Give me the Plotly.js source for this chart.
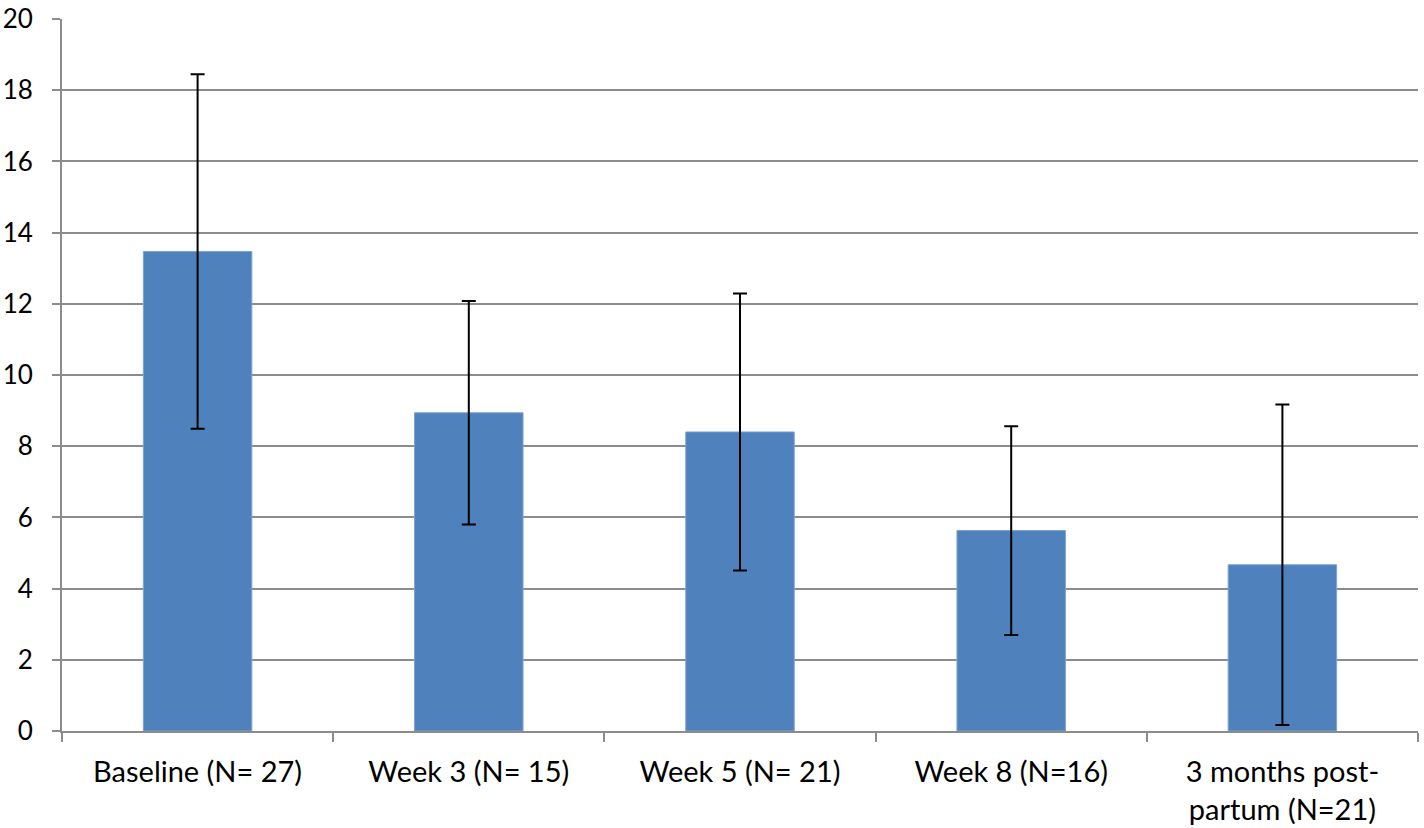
<!DOCTYPE html>
<html>
<head>
<meta charset="utf-8">
<script src="https://cdn.plot.ly/plotly-3.0.1.min.js"></script>
<style>html,body{margin:0;padding:0;background:#fff;}#chart{width:1424px;height:828px;}</style>
</head>
<body>
<div id="chart"></div>
<script>
const categories = ["Baseline (N= 27)", "Week 3 (N= 15)", "Week 5 (N= 21)", "Week 8 (N=16)", "3 months post-<br>partum (N=21)"];
const means = [13.47, 8.94, 8.40, 5.63, 4.67];
const errors = [4.98, 3.14, 3.89, 2.93, 4.50];
const yTicks = [0, 2, 4, 6, 8, 10, 12, 14, 16, 18, 20];

const trace = {
  type: "bar",
  x: categories,
  y: means,
  marker: {color: "#4F81BD", line: {color: "#7FA3D2", width: 1}},
  error_y: {type: "data", array: errors, visible: true, color: "#000000", thickness: 2, width: 7},
  hoverinfo: "none"
};

const layout = {
  width: 1424, height: 828,
  margin: {l: 62, r: 6, t: 19, b: 97},
  paper_bgcolor: "#ffffff", plot_bgcolor: "#ffffff",
  bargap: 0.6,
  showlegend: false,
  font: {family: "Lato, 'Open Sans', sans-serif", size: 26, color: "#000000"},
  xaxis: {
    type: "category",
    showline: true, linecolor: "#8C8C8C", linewidth: 2,
    ticks: "outside", tickson: "boundaries", ticklen: 9, tickcolor: "#8C8C8C", tickwidth: 2,
    showgrid: false,
    tickfont: {size: 29},
    ticklabelstandoff: 14,
    ticklabeloverflow: "allow",
    fixedrange: true
  },
  yaxis: {
    range: [0, 20],
    tickvals: yTicks,
    ticktext: yTicks.map(String),
    showline: true, linecolor: "#8C8C8C", linewidth: 2,
    ticks: "outside", ticklen: 8, tickcolor: "#8C8C8C", tickwidth: 2,
    showgrid: true, gridcolor: "#8C8C8C", gridwidth: 2,
    zeroline: false,
    tickfont: {size: 26},
    ticklabelstandoff: 14,
    ticklabeloverflow: "allow",
    fixedrange: true
  }
};

Plotly.newPlot("chart", [trace], layout, {displayModeBar: false, staticPlot: true});
</script>
</body>
</html>
